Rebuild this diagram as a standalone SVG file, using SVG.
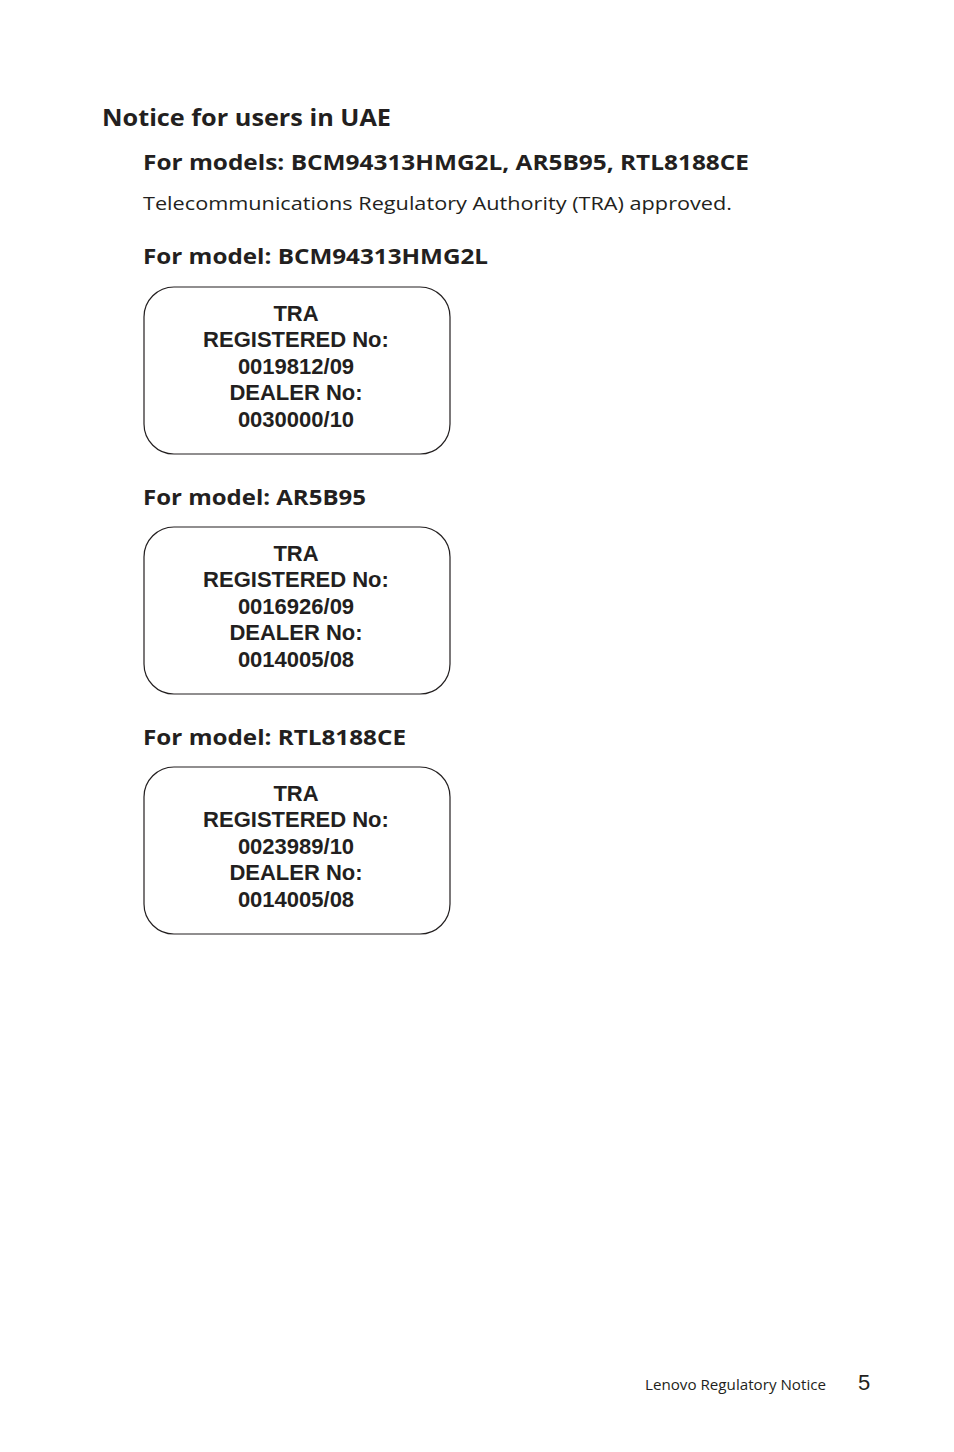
<svg xmlns="http://www.w3.org/2000/svg" width="954" height="1452" viewBox="0 0 954 1452">
<style>
.h{font-family:"Open Sans","Liberation Sans",sans-serif;font-weight:bold;fill:#231f20}
.b{font-family:"Open Sans","Liberation Sans",sans-serif;fill:#231f20}
.box{fill:#fff;stroke:#231f20;stroke-width:1.2}
.t{font-family:"Liberation Sans",Arial,sans-serif;font-weight:bold;font-size:22px;text-anchor:middle;fill:#231f20}
</style>
<rect width="954" height="1452" fill="#fff"/>
<text class="h" x="102" y="126" font-size="24" textLength="289" lengthAdjust="spacingAndGlyphs">Notice for users in UAE</text>
<text class="h" x="143" y="170" font-size="21" textLength="606" lengthAdjust="spacingAndGlyphs">For models: BCM94313HMG2L, AR5B95, RTL8188CE</text>
<text class="b" x="143" y="210" font-size="19" textLength="589" lengthAdjust="spacingAndGlyphs">Telecommunications Regulatory Authority (TRA) approved.</text>
<text class="h" x="143" y="264" font-size="21" textLength="345" lengthAdjust="spacingAndGlyphs">For model: BCM94313HMG2L</text>
<g id="box1">
<rect class="box" x="144" y="287" width="306" height="167" rx="30"/>
<text class="t" x="296" y="321">TRA</text>
<text class="t" x="296" y="347">REGISTERED No:</text>
<text class="t" x="296" y="374">0019812/09</text>
<text class="t" x="296" y="400">DEALER No:</text>
<text class="t" x="296" y="427">0030000/10</text>
</g>
<text class="h" x="143" y="505" font-size="21" textLength="223" lengthAdjust="spacingAndGlyphs">For model: AR5B95</text>
<g id="box2">
<rect class="box" x="144" y="527" width="306" height="167" rx="30"/>
<text class="t" x="296" y="561">TRA</text>
<text class="t" x="296" y="587">REGISTERED No:</text>
<text class="t" x="296" y="614">0016926/09</text>
<text class="t" x="296" y="640">DEALER No:</text>
<text class="t" x="296" y="667">0014005/08</text>
</g>
<text class="h" x="143" y="745" font-size="21" textLength="263" lengthAdjust="spacingAndGlyphs">For model: RTL8188CE</text>
<g id="box3">
<rect class="box" x="144" y="767" width="306" height="167" rx="30"/>
<text class="t" x="296" y="801">TRA</text>
<text class="t" x="296" y="827">REGISTERED No:</text>
<text class="t" x="296" y="854">0023989/10</text>
<text class="t" x="296" y="880">DEALER No:</text>
<text class="t" x="296" y="907">0014005/08</text>
</g>
<g id="connectors"/>
<text class="b" x="645" y="1390" font-size="15" textLength="181" lengthAdjust="spacingAndGlyphs">Lenovo Regulatory Notice</text>
<text x="858" y="1390" font-size="22" font-family="Liberation Sans,Arial,sans-serif" fill="#231f20">5</text>
</svg>
